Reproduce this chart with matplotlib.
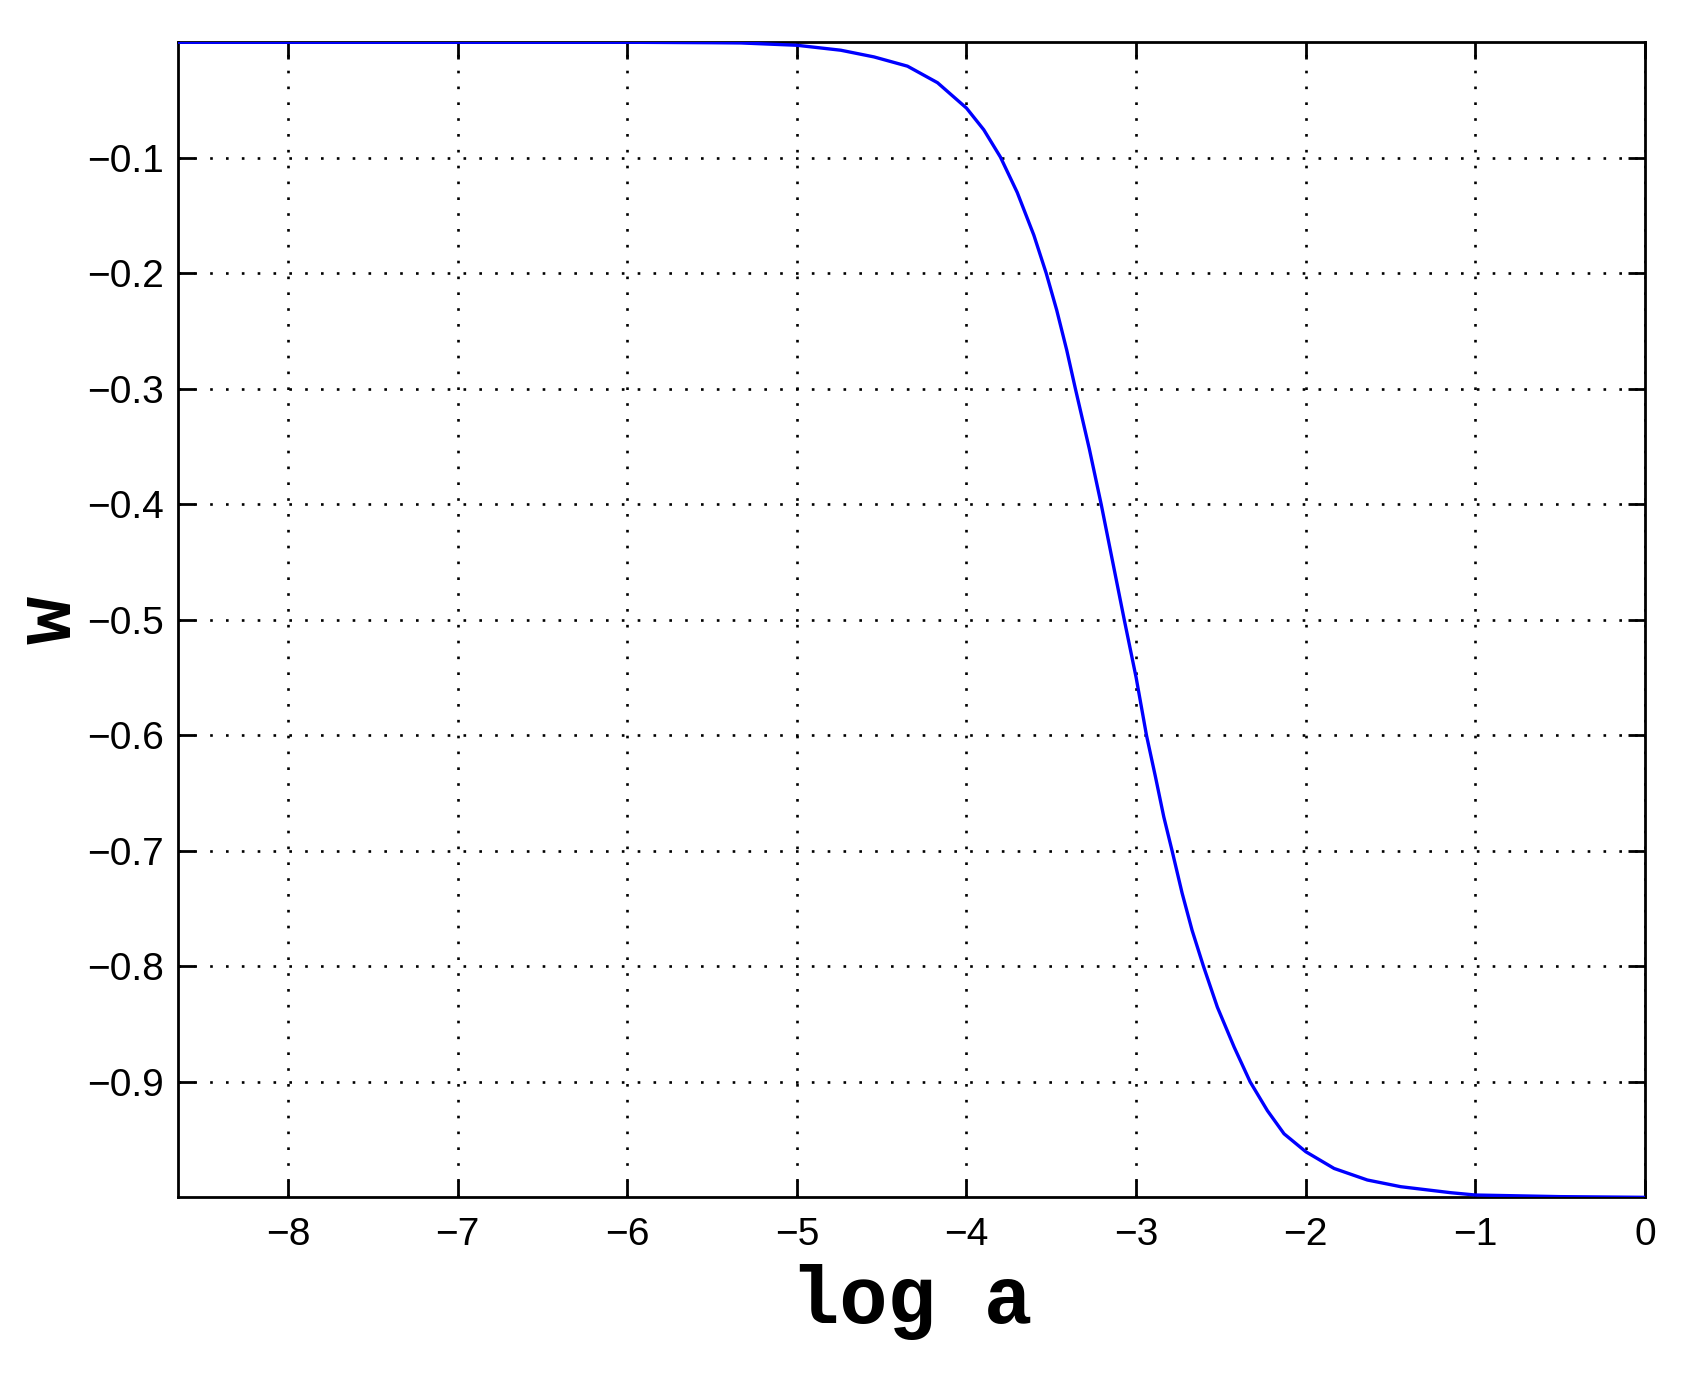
import matplotlib.pyplot as plt
import numpy as np

# values
log_a = [-8.65, -7.0, -6.0, -5.5, -5.33, -5.0, -4.741, -4.545, -4.348, -4.171,
         -4.0, -3.898, -3.8, -3.701, -3.603, -3.53, -3.468, -3.409, -3.358,
         -3.276, -3.206, -3.07, -3.0, -2.939, -2.886, -2.837, -2.788,
         -2.729, -2.67, -2.603, -2.521, -2.422, -2.328, -2.226, -2.128, -2.0,
         -1.833, -1.637, -1.44, -1.145, -1.0, -0.5, 0.0]
w = [0.0, 0.0, 0.0, -0.0004, -0.0006, -0.0026, -0.0069, -0.0127, -0.0207, -0.035,
     -0.057, -0.0758, -0.0994, -0.130, -0.167, -0.2, -0.232, -0.2666, -0.3,
     -0.352, -0.4, -0.5, -0.55, -0.6, -0.636, -0.6706, -0.7,
     -0.7366, -0.7689, -0.8, -0.8354, -0.870, -0.9, -0.925, -0.945, -0.9605,
     -0.975, -0.985, -0.9908, -0.996, -0.998, -0.9994, -1.0]

x_ticks = [-8, -7, -6, -5, -4, -3, -2, -1, 0]
y_ticks = [-0.9, -0.8, -0.7, -0.6, -0.5, -0.4, -0.3, -0.2, -0.1]

tick_font = ["Liberation Sans Narrow", "Liberation Sans", "DejaVu Sans"]
label_font = ["Liberation Mono", "DejaVu Sans Mono"]

fig = plt.figure(figsize=(16.86, 13.81), dpi=100)
ax = fig.add_axes([0.1054, 0.133, 0.8703, 0.8364])

ax.plot(log_a, w, color="#0000ff", lw=2.4, zorder=3)

ax.set_xlim(-8.65, 0)
ax.set_ylim(-1, 0)
ax.set_xticks(x_ticks)
ax.set_yticks(y_ticks)
ax.set_xticklabels([f"{t}".replace("-", "\u2212") for t in x_ticks])
ax.set_yticklabels([f"{t:.1f}".replace("-", "\u2212") for t in y_ticks])

ax.grid(True, color="k", ls=(0, (1, 5)), lw=1.9)
ax.tick_params(direction="in", length=12, width=2, top=True, right=True,
               labelsize=28, colors="k")
ax.tick_params(axis="x", pad=14)
ax.tick_params(axis="y", pad=10)
for lbl in ax.get_xticklabels() + ax.get_yticklabels():
    lbl.set_family(tick_font)
for sp in ax.spines.values():
    sp.set_linewidth(2)

ax.set_xlabel("log a", family=label_font, fontsize=58, fontweight="bold",
              labelpad=8)
ax.set_ylabel("w", family=label_font, fontsize=58, fontweight="bold",
              va="center")
ax.yaxis.set_label_coords(-0.087, 0.5)

plt.savefig("out.png", dpi=100)
